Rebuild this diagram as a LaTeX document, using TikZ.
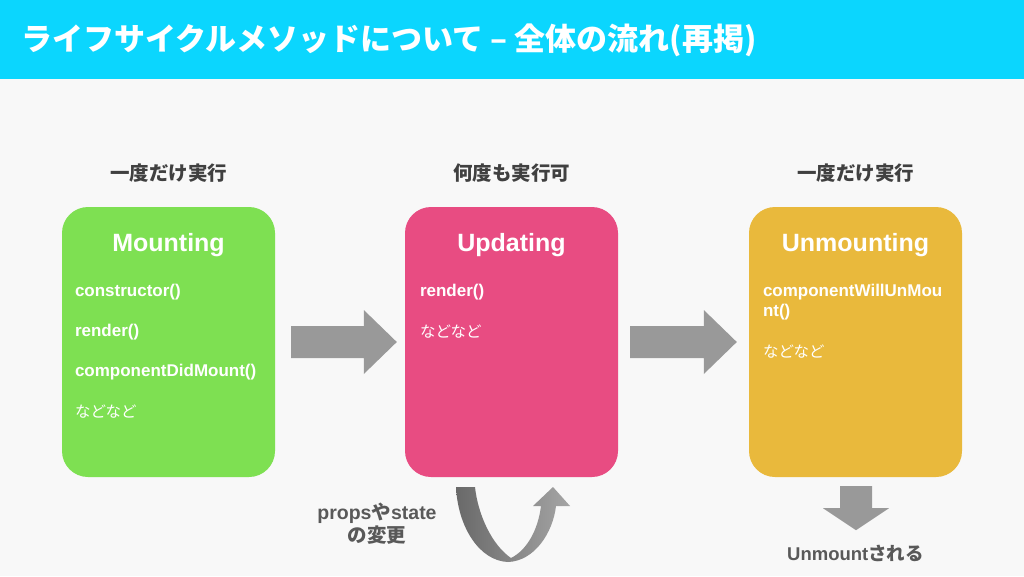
\documentclass[tikz,border=0pt]{standalone}
\usepackage{fontspec}
\setmainfont{Liberation Sans}
\newfontfamily\jp{Noto Sans CJK JP}
\usetikzlibrary{calc}
\definecolor{headcyan}{RGB}{11,214,254}
\definecolor{bgray}{RGB}{248,248,248}
\definecolor{mgreen}{RGB}{126,224,82}
\definecolor{upink}{RGB}{232,76,130}
\definecolor{uyellow}{RGB}{233,185,60}
\definecolor{arrowgray}{RGB}{153,153,153}
\definecolor{labeldark}{RGB}{64,64,64}
\definecolor{labelgray}{RGB}{89,89,89}
\tikzset{
  phasebox/.style={draw=none, rounded corners=26pt, minimum width=213pt, minimum height=270pt, inner sep=0pt},
  boxtitle/.style={text=white, font=\bfseries\fontsize{25}{28}\selectfont, inner sep=0pt},
  item/.style={text=white, font=\bfseries\fontsize{17}{20}\selectfont, anchor=west, inner sep=0pt, align=left},
  etc/.style={text=white, font=\jp\fontsize{15.5}{20}\selectfont, anchor=west, inner sep=0pt},
  toplabel/.style={text=labeldark, font=\jp\bfseries\fontsize{19.5}{22}\selectfont, inner sep=0pt},
  botlabel/.style={text=labelgray, font=\bfseries\fontsize{18.5}{23}\selectfont, inner sep=0pt, align=center},
}
\newcommand\blockarrow[2]{%
  \fill[arrowgray] ($(#1)+(0,-16)$) -- ($(#2)+(-33,-16)$) -- ($(#2)+(-33,-32)$) -- (#2)
    -- ($(#2)+(-33,32)$) -- ($(#2)+(-33,16)$) -- ($(#1)+(0,16)$) -- cycle;}
\begin{document}
\begin{tikzpicture}[x=1pt,y=-1pt]
\useasboundingbox (0,0) rectangle (1024,576);
\fill[bgray] (0,0) rectangle (1024,576);
\fill[headcyan] (0,0) rectangle (1024,79);
\node[anchor=west, text=white, inner sep=0pt, font=\jp\bfseries\fontsize{31}{34}\selectfont] (title) at (21,40) {ライフサイクルメソッドについて – 全体の流れ(再掲)};

% boxes
\node[phasebox, fill=mgreen] (mount) at (168.5,342) {};
\node[phasebox, fill=upink] (update) at (511.5,342) {};
\node[phasebox, fill=uyellow] (unmount) at (855.5,342) {};

% top labels
\node[toplabel] (l1) at ($(mount.north)+(0,-34)$) {一度だけ実行};
\node[toplabel] (l2) at ($(update.north)+(0,-34)$) {何度も実行可};
\node[toplabel] (l3) at ($(unmount.north)+(0,-34)$) {一度だけ実行};

% titles
\node[boxtitle] (t1) at ($(mount.north)+(0,38)$) {Mounting};
\node[boxtitle] (t2) at ($(update.north)+(0,38)$) {Updating};
\node[boxtitle] (t3) at ($(unmount.north)+(0,38)$) {Unmounting};

% mounting items
\node[item] (m1) at ($(mount.north west)+(13,85)$) {constructor()};
\node[item] (m2) at ($(mount.north west)+(13,125)$) {render()};
\node[item] (m3) at ($(mount.north west)+(13,165)$) {componentDidMount()};
\node[etc] (m4) at ($(mount.north west)+(13,205)$) {などなど};

% updating items
\node[item] (u1) at ($(update.north west)+(15,85)$) {render()};
\node[etc] (u2) at ($(update.north west)+(15,125)$) {などなど};

% unmounting items
\node[item, anchor=north west] (x1) at ($(unmount.north west)+(14,77)$) {componentWillUnMou\\[0pt]nt()};
\node[etc] (x2) at ($(unmount.north west)+(14,145)$) {などなど};

% connectors (block arrows)
\coordinate (a1s) at ($(mount.east)+(16,0)$);
\coordinate (a1e) at ($(update.west)+(-8,0)$);
\blockarrow{a1s}{a1e}
\coordinate (a2s) at ($(update.east)+(12,0)$);
\coordinate (a2e) at ($(unmount.west)+(-12,0)$);
\blockarrow{a2s}{a2e}

% down arrow
\coordinate (d0) at ($(unmount.south)+(0.5,9)$);
\fill[arrowgray] ($(d0)+(-16,0)$) -- ($(d0)+(16,0)$) -- ($(d0)+(16,22)$) -- ($(d0)+(33,22)$)
  -- ($(d0)+(0,44)$) -- ($(d0)+(-33,22)$) -- ($(d0)+(-16,22)$) -- cycle;
\node[botlabel] (unm) at ($(unmount.south)+(0,76)$) {Unmount{\jp される}};

% U-turn arrow
\shade[left color={rgb,255:red,105;green,105;blue,105}, right color={rgb,255:red,165;green,165;blue,165}]
  (456,487) .. controls (458,528) and (480,561) .. (508,562)
  .. controls (535,561) and (553,532) .. (556,506)
  -- (570,506) -- (553,487) -- (533,506) -- (541,506)
  .. controls (538,530) and (527,550) .. (511,558)
  .. controls (492,545) and (478,515) .. (475,487) -- cycle;
\node[botlabel, font=\bfseries\fontsize{19.5}{23}\selectfont] (chg) at (377,524) {props{\jp\bfseries や}state\\{\jp\bfseries の変更}};
\end{tikzpicture}
\end{document}
